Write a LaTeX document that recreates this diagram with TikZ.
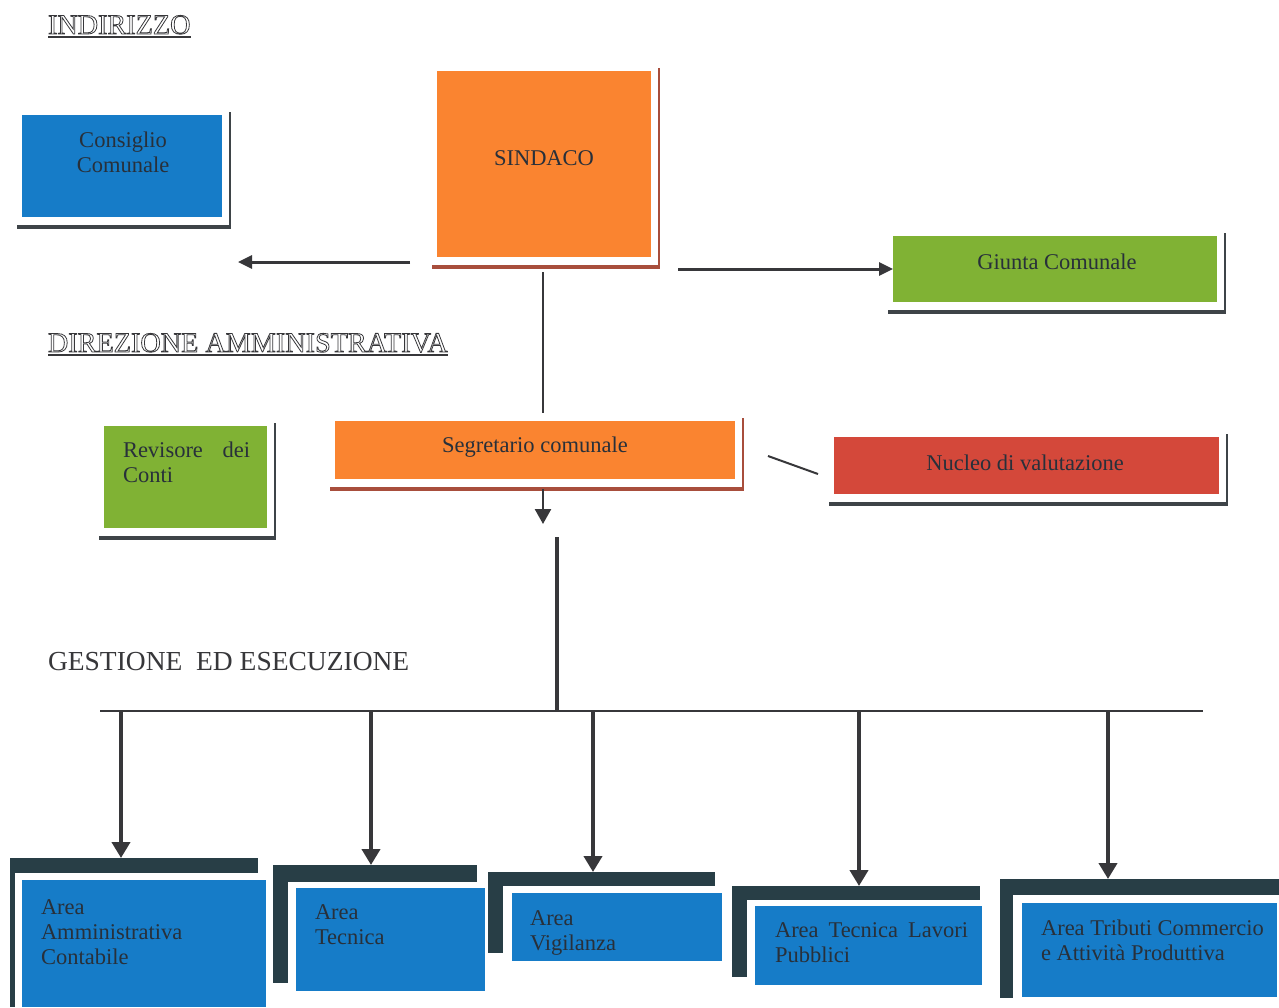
\documentclass[tikz,border=0pt]{standalone}
\usepackage{fontspec}
\setmainfont{Liberation Serif}
\usetikzlibrary{arrows.meta}
\definecolor{cblue}{RGB}{22,124,200}
\definecolor{corange}{RGB}{250,132,48}
\definecolor{cgreen}{RGB}{128,178,52}
\definecolor{cred}{RGB}{212,72,58}
\definecolor{cframe}{RGB}{40,62,70}
\definecolor{cshadow}{RGB}{62,68,72}
\definecolor{cbrown}{RGB}{168,78,60}
\definecolor{ctext}{RGB}{40,48,58}
\definecolor{cline}{RGB}{55,55,58}
\newcommand{\outl}[1]{\special{pdf:literal direct 1 Tr 0.8 w}#1\special{pdf:literal direct 0 Tr}}
\newcommand{\shframe}[2]{%
  \draw[#2, line width=2.5pt] ([shift={(8,-3)}]#1.north east) -- ([shift={(8,11)}]#1.south east);
  \draw[#2, line width=3.5pt] ([shift={(-5,10)}]#1.south west) -- ([shift={(9.25,10)}]#1.south east);}
\begin{document}
\begin{tikzpicture}[x=1pt,y=-1pt,
  every node/.style={inner sep=0pt, outer sep=0pt},
  boxtxt/.style={font=\fontsize{22.5}{25}\selectfont, text=ctext},
  head/.style={font=\fontsize{28.2}{31}\selectfont, text=cline, anchor=base west},
  conn/.style={draw=cline, line width=3pt, -{Triangle[length=14pt,width=13pt]}},
  plainline/.style={draw=cline, line width=2.5pt},
  downarrow/.style={draw=cline, line width=4pt, -{Triangle[length=16pt,width=18pt]}}]
\useasboundingbox (0,0) rectangle (1279,1007);
\fill[white] (0,0) rectangle (1279,1007);

% headings
\node[head] (h1) at (48,34) {\outl{INDIRIZZO}};
\draw[cline, line width=1.5pt] ([shift={(0,3)}]h1.base west) -- ([shift={(0,3)}]h1.base east);
\node[head] (h2) at (48,352) {\outl{DIREZIONE AMMINISTRATIVA}};
\draw[cline, line width=1.5pt] ([shift={(0,3)}]h2.base west) -- ([shift={(0,3)}]h2.base east);
\node[head, font=\fontsize{27.5}{30}\selectfont] (h3) at (48,670) {GESTIONE\ \ ED ESECUZIONE};

% upper boxes
\node[fill=cblue, minimum width=200pt, minimum height=102pt] (cons) at (122,166) {};
\node[boxtxt, align=center] (tcons) at (123,152) {Consiglio\\Comunale};
\shframe{cons}{cshadow}

\node[fill=corange, minimum width=214pt, minimum height=186pt] (sind) at (544,164) {};
\node[boxtxt] (tsind) at (544,158) {SINDACO};
\shframe{sind}{cbrown}

\node[fill=cgreen, minimum width=324pt, minimum height=66pt] (giun) at (1055,269) {};
\node[boxtxt] (tgiun) at (1057,262) {Giunta Comunale};
\shframe{giun}{cshadow}

\node[fill=cgreen, minimum width=163pt, minimum height=102pt] (rev) at (185.5,477) {};
\node[boxtxt, text width=127pt, align=left, anchor=north west] (trev) at (123,442) {Revisore\hfill dei\\Conti};
\shframe{rev}{cshadow}

\node[fill=corange, minimum width=400pt, minimum height=58pt] (segr) at (535,450) {};
\node[boxtxt] (tsegr) at (535,447) {Segretario comunale};
\shframe{segr}{cbrown}

\node[fill=cred, minimum width=385pt, minimum height=57pt] (nucl) at (1026.5,465.5) {};
\node[boxtxt] (tnucl) at (1025,463) {Nucleo di valutazione};
\shframe{nucl}{cshadow}

% upper connectors
\coordinate (la) at (410,262);
\coordinate (lb) at (238,262);
\draw[conn] (la) -- (lb);
\coordinate (ra) at (678,269);
\draw[conn] (ra) -- (ra -| giun.west);
\coordinate (sa) at (543,272);
\coordinate (sb) at (543,413);
\draw[plainline] (sa) -- (sb);
\coordinate (da) at (768,456);
\coordinate (db) at (818,474);
\draw[draw=cline, line width=2pt] (da) -- (db);
\coordinate (ga) at (543,489);
\coordinate (gb) at (543,524);
\draw[draw=cline, line width=2.5pt, -{Triangle[length=15pt,width=16pt]}] (ga) -- (gb);
\coordinate (va) at (557,537);
\coordinate (vb) at (557,711);
\draw[draw=cline, line width=4pt] (va) -- (vb);
\coordinate (hl) at (100,711);
\coordinate (hr) at (1203,711);
\draw[draw=cline, line width=2pt] (hl) -- (hr);

% bottom frames and boxes
\node[fill=cframe, minimum width=248pt, minimum height=15pt, anchor=north west] (f1) at (10,858) {};
\fill[cframe] (10,858) rectangle (15,1007);
\node[fill=cblue, minimum width=244pt, minimum height=127pt] (b1) at (144,943.5) {};
\node[boxtxt, align=left, anchor=north west] (t1) at (41,900) {Area\\Amministrativa\\Contabile};

\node[fill=cframe, minimum width=204pt, minimum height=17pt, anchor=north west] (f2) at (273,865) {};
\fill[cframe] (273,865) rectangle (288,983);
\node[fill=cblue, minimum width=189pt, minimum height=103pt] (b2) at (390.5,939.5) {};
\node[boxtxt, align=left, anchor=north west] (t2) at (315,905) {Area\\Tecnica};

\node[fill=cframe, minimum width=227pt, minimum height=14pt, anchor=north west] (f3) at (488,872) {};
\fill[cframe] (488,872) rectangle (503,953);
\node[fill=cblue, minimum width=210pt, minimum height=68pt] (b3) at (617,927) {};
\node[boxtxt, align=left, anchor=north west] (t3) at (530,911) {Area\\Vigilanza};

\node[fill=cframe, minimum width=248pt, minimum height=14pt, anchor=north west] (f4) at (732,886) {};
\fill[cframe] (732,886) rectangle (747,977);
\node[fill=cblue, minimum width=227pt, minimum height=79pt] (b4) at (868.5,945.5) {};
\node[boxtxt, text width=193pt, align=left, anchor=north west] (t4) at (775,923) {Area\hfill Tecnica\hfill Lavori\\Pubblici};

\node[fill=cframe, minimum width=279pt, minimum height=16pt, anchor=north west] (f5) at (1000,879) {};
\fill[cframe] (1000,879) rectangle (1013,998);
\node[fill=cblue, minimum width=255pt, minimum height=94pt] (b5) at (1149.5,950) {};
\node[boxtxt, align=left, anchor=north west] (t5) at (1041,920) {Area Tributi Commercio\\e Attività Produttiva};

% bottom arrows
\coordinate (a1) at (121,711);
\coordinate (a2) at (371,711);
\coordinate (a3) at (593,711);
\coordinate (a4) at (859,711);
\coordinate (a5) at (1108,711);
\draw[downarrow] (a1) -- (a1 |- f1.north);
\draw[downarrow] (a2) -- (a2 |- f2.north);
\draw[downarrow] (a3) -- (a3 |- f3.north);
\draw[downarrow] (a4) -- (a4 |- f4.north);
\draw[downarrow] (a5) -- (a5 |- f5.north);
\end{tikzpicture}
\end{document}
